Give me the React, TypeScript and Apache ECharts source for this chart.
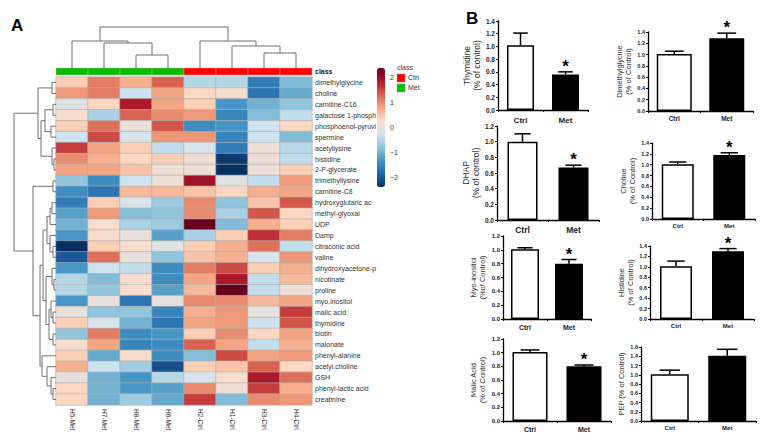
import React, { useEffect, useRef } from 'react';
import * as echarts from 'echarts';

const FONT = 'Liberation Sans, Arial, Helvetica, sans-serif';

// ---------- Heatmap data ----------
const samples = ['H5-Met', 'H7-Met', 'H8-Met', 'H6-Met', 'H2-Ctrl', 'H1-Ctrl', 'H3-Ctrl', 'H4-Ctrl'];
const sampleClass = ['Met', 'Met', 'Met', 'Met', 'Ctrl', 'Ctrl', 'Ctrl', 'Ctrl'];
const classNames = ['Ctrl', 'Met'];
const classColors = ['#FF0000', '#00C000'];

const metabolites = [
  'dimethylglycine', 'choline', 'carnitine-C16', 'galactose 1-phosph', 'phosphoenol-pyruvi',
  'spermine', 'acetyllysine', 'histidine', '2-P-glycerate', 'trimethyllysine',
  'carnitine-C8', 'hydroxyglutaric ac', 'methyl-glyoxal', 'UDP', 'Damp',
  'citraconic acid', 'valine', 'dihydroxyacetone-p', 'nicotinate', 'proline',
  'myo.inositol', 'malic acid', 'thymidine', 'biotin', 'malonate',
  'phenyl-alanine', 'acetyl.choline', 'GSH', 'phenyl-lactic acid', 'creatinine',
];

const zScores = [
  [0.4, 1.1, 0.7, 1.3, -0.5, -0.5, -1.6, -0.9],
  [0.9, 1.1, -0.3, 0.8, 0.3, 0.2, -1.7, -1.1],
  [-0.1, 0.3, 1.9, 0.8, 0.4, -1.3, -1.0, -0.8],
  [0.2, -0.6, 1.3, 1.0, 0.9, -1.5, -0.9, -0.4],
  [0.4, 1.2, 0.0, 1.4, -1.4, -1.3, -0.3, 0.3],
  [-0.3, 1.5, -0.2, 0.9, 0.9, -1.5, -0.3, -0.9],
  [1.6, 0.8, 0.4, -0.4, -0.2, -1.6, 0.1, -0.5],
  [1.0, 0.7, 0.3, 0.4, 0.1, -2.3, 0.1, -0.4],
  [0.8, 0.8, 0.5, 0.1, 0.1, -2.4, 0.1, 0.4],
  [-0.8, -1.4, -0.3, 0.1, 2.0, -0.1, -0.4, 0.9],
  [-1.4, -1.7, 0.6, 0.6, 0.5, 0.3, 0.7, 0.8],
  [-1.6, 0.4, -0.2, -0.7, 1.0, -0.8, 0.5, 1.4],
  [-1.2, 0.9, -0.9, -0.8, 1.0, -0.6, 1.4, 0.3],
  [-1.0, 0.2, -0.6, -0.7, 2.4, -0.9, 0.7, 0.4],
  [-1.3, 0.2, 0.0, -1.2, -0.6, 0.4, 1.7, 1.1],
  [-2.4, 0.4, 0.2, -0.1, 0.4, 0.7, 1.2, -0.4],
  [-2.0, 1.2, 0.0, -0.8, 0.5, 0.7, -0.2, 0.9],
  [-1.3, -0.3, -0.4, -1.4, 1.1, 1.5, 0.4, 0.7],
  [-0.5, -0.9, 0.2, -1.4, 0.8, 1.9, -0.4, 0.6],
  [-0.5, -0.8, 0.2, -1.2, 0.6, 2.4, -0.4, 0.1],
  [-1.3, 0.0, -1.7, 0.0, 1.0, 1.0, 0.6, 0.8],
  [0.0, -0.8, -0.8, -1.5, 0.7, 0.9, 0.0, 1.6],
  [0.4, -0.2, -1.0, -1.7, 0.8, 0.9, -0.3, 1.4],
  [-0.8, 1.1, -1.4, -1.3, 0.4, 1.0, 0.3, 0.8],
  [0.2, 0.8, -1.5, -1.4, 1.3, 0.8, -0.4, 0.7],
  [0.4, -1.1, 0.2, -1.4, -0.9, 1.5, 0.8, 0.9],
  [0.7, -0.3, -0.7, -2.1, 0.4, 0.5, 1.3, 0.3],
  [0.0, -1.0, -1.3, -0.5, -0.2, 0.2, 1.9, 1.2],
  [0.3, -1.0, -1.3, -1.2, 1.0, 0.1, 1.6, 0.7],
  [0.3, -1.0, -0.7, -1.1, 1.6, -0.9, 1.0, 0.9],
];

const colorbarTicks = [-2, -1, 0, 1, 2];
const colorRange = ['#053061', '#2166AC', '#4393C3', '#92C5DE', '#D1E5F0', '#FDDBC7', '#F4A582', '#D6604D', '#B2182B', '#67001F'];

// dendrogram merges: [childA, childB, height]; leaves are 0..n-1, new clusters n, n+1, ...
const colMerges = [
  [2, 3, 13], [1, 8, 25], [0, 9, 27], [6, 7, 15], [5, 11, 22], [4, 12, 27], [10, 13, 41],
];
const rowMerges = [
  [0, 1, 4], [2, 3, 3], [4, 5, 5], [7, 8, 2], [6, 33, 4], [31, 32, 11], [35, 34, 15], [30, 36, 18],
  [9, 10, 3], [11, 12, 4], [13, 39, 6], [15, 16, 3], [14, 41, 6], [40, 42, 9],
  [18, 19, 2], [17, 44, 4], [21, 22, 3], [20, 46, 5], [23, 24, 3], [47, 48, 7], [45, 49, 10],
  [43, 50, 13], [28, 29, 3], [27, 52, 5], [26, 53, 9], [25, 54, 14], [51, 55, 16], [38, 56, 23],
  [37, 57, 42],
];

// ---------- Bar chart data ----------
const groups = ['Ctrl', 'Met'];
const barTitles = [
  'Thymidine\n(% of control)', 'Dimethylglycine\n(% of Control)', 'DHAP\n(% of control)', 'Choline\n(% of Control)',
  'Myo-inositol\n(%of Control)', 'Histidine\n(% of Control)', 'Malic Acid\n(% of Control)', 'PEP (% of Control)',
];
const ctrlMean = [1.02, 1.01, 1.0, 1.01, 1.01, 1.01, 1.01, 1.01];
const ctrlErr = [0.19, 0.05, 0.1, 0.04, 0.02, 0.1, 0.03, 0.09];
const metMean = [0.56, 1.29, 0.67, 1.18, 0.8, 1.3, 0.8, 1.41];
const metErr = [0.04, 0.09, 0.03, 0.04, 0.06, 0.05, 0.02, 0.14];
const significant = [true, true, true, true, true, true, true, false];
const yMax = [1.4, 1.4, 1.2, 1.4, 1.2, 1.4, 1.2, 1.6];

// ---------- layout (positions/styles only) ----------
const panelBoxes = [
  { left: 498, top: 21, width: 90, height: 89, bw: 27, tick: 6.5, cat: 8, title: 8.5, gap: 16, cm: 6 },
  { left: 648, top: 32, width: 105, height: 79, bw: 35, tick: 5.5, cat: 6.5, title: 7.5, gap: 14, cm: 4 },
  { left: 497, top: 126, width: 102, height: 94, bw: 30, tick: 6.5, cat: 8.5, title: 8.5, gap: 16, cm: 5 },
  { left: 652, top: 143, width: 103, height: 76, bw: 32, tick: 5.5, cat: 6, title: 7.5, gap: 14, cm: 4 },
  { left: 503, top: 236, width: 88, height: 83, bw: 28, tick: 6, cat: 7, title: 7.5, gap: 16, cm: 5 },
  { left: 650, top: 246, width: 104, height: 73, bw: 32, tick: 5.5, cat: 6, title: 7.5, gap: 14, cm: 4 },
  { left: 503, top: 339, width: 108, height: 82, bw: 35, tick: 6, cat: 7, title: 7.5, gap: 16, cm: 5 },
  { left: 641, top: 347, width: 115, height: 74, bw: 38, tick: 5.5, cat: 6, title: 7.5, gap: 10, cm: 4 },
];

function dendroSegments(merges: number[][], n: number) {
  const pos: number[] = [];
  const ht: number[] = [];
  for (let i = 0; i < n; i++) { pos[i] = i + 0.5; ht[i] = 0; }
  const segs: number[][] = [];
  merges.forEach((m, k) => {
    const [a, b, h] = m;
    segs.push([pos[a], ht[a], pos[a], h]);
    segs.push([pos[b], ht[b], pos[b], h]);
    segs.push([pos[a], h, pos[b], h]);
    pos[n + k] = (pos[a] + pos[b]) / 2;
    ht[n + k] = h;
  });
  return segs;
}

function segRender(swap: boolean) {
  return (params: any, api: any) => {
    const a = [api.value(0), api.value(1)];
    const b = [api.value(2), api.value(3)];
    const p1 = api.coord(swap ? [a[1], a[0]] : a);
    const p2 = api.coord(swap ? [b[1], b[0]] : b);
    return {
      type: 'line',
      shape: { x1: p1[0], y1: p1[1], x2: p2[0], y2: p2[1] },
      style: { stroke: '#707070', lineWidth: 1 },
    };
  };
}

export default function App() {
  const ref = useRef<HTMLDivElement>(null);
  useEffect(() => {
    if (!ref.current) return;
    const chart = echarts.init(ref.current, null, { renderer: 'svg' });

    const heatData: number[][] = [];
    zScores.forEach((row, r) => row.forEach((v, c) => heatData.push([c, r, v])));
    const classData = sampleClass.map((c, i) => [i, 0, classNames.indexOf(c)]);
    const colSegs = dendroSegments(colMerges, samples.length);
    const rowSegs = dendroSegments(rowMerges, metabolites.length);

    const grid: any[] = [
      { left: 56, top: 77, width: 256, height: 328 },
      { left: 56, top: 68, width: 256, height: 7 },
      { left: 56, top: 20, width: 256, height: 48 },
      { left: 12, top: 77, width: 44, height: 328 },
      { left: 377, top: 68, width: 8, height: 119 },
    ];
    const xAxis: any[] = [
      { gridIndex: 0, type: 'category', data: samples, position: 'bottom', axisLine: { show: false }, axisTick: { show: false },
        axisLabel: { rotate: -90, fontSize: 6.5, color: '#333', margin: 4, fontFamily: FONT } },
      { gridIndex: 1, type: 'category', data: samples, show: false },
      { gridIndex: 2, type: 'value', min: 0, max: 8, show: false },
      { gridIndex: 3, type: 'value', min: 0, max: 44, inverse: true, show: false },
      { gridIndex: 4, type: 'value', min: 0, max: 1, show: false },
    ];
    const yAxis: any[] = [
      { gridIndex: 0, type: 'category', data: metabolites, inverse: true, position: 'right', axisLine: { show: false }, axisTick: { show: false },
        axisLabel: { fontSize: 7, color: '#333', margin: 3, fontFamily: FONT } },
      { gridIndex: 1, type: 'category', data: ['class'], position: 'right', axisLine: { show: false }, axisTick: { show: false },
        axisLabel: { fontSize: 7, color: '#222', margin: 3, fontWeight: 'bold', fontFamily: FONT } },
      { gridIndex: 2, type: 'value', min: 0, max: 48, show: false },
      { gridIndex: 3, type: 'value', min: 0, max: 30, inverse: true, show: false },
      { gridIndex: 4, type: 'value', min: -2.4, max: 2.4, position: 'right', axisLine: { show: false }, axisTick: { show: false },
        splitLine: { show: false },
        axisLabel: { customValues: colorbarTicks, fontSize: 7, color: '#333', margin: 5, fontFamily: FONT,
          formatter: (v: number) => String(v).replace('-', '\u2212') } },
    ];
    const series: any[] = [
      { type: 'heatmap', xAxisIndex: 0, yAxisIndex: 0, data: heatData,
        itemStyle: { borderColor: '#b0b0b0', borderWidth: 0.6 }, emphasis: { disabled: true } },
      { type: 'custom', xAxisIndex: 1, yAxisIndex: 1, data: classData,
        renderItem: (params: any, api: any) => {
          const c = api.coord([api.value(0), 0]);
          const s = api.size([1, 1]);
          return { type: 'rect', shape: { x: c[0] - s[0] / 2, y: c[1] - s[1] / 2, width: s[0], height: s[1] },
            style: { fill: classColors[api.value(2)], stroke: '#e0a0a0', lineWidth: 0.5 } };
        } },
      { type: 'custom', xAxisIndex: 2, yAxisIndex: 2, data: colSegs, renderItem: segRender(false) },
      { type: 'custom', xAxisIndex: 3, yAxisIndex: 3, data: rowSegs, renderItem: segRender(true) },
    ];

    panelBoxes.forEach((b, i) => {
      const gi = grid.length;
      grid.push({ left: b.left, top: b.top, width: b.width, height: b.height });
      xAxis.push({ gridIndex: gi, type: 'category', data: groups,
        axisLine: { lineStyle: { color: '#000', width: 1.3 } },
        axisTick: { show: true, alignWithLabel: false, length: 2, lineStyle: { color: '#000' } },
        axisLabel: { fontSize: b.cat, fontWeight: 'bold', color: '#222', margin: b.cm, fontFamily: FONT } });
      yAxis.push({ gridIndex: gi, type: 'value', min: 0, max: yMax[i], interval: 0.2,
        name: barTitles[i], nameLocation: 'middle', nameRotate: 90, nameGap: b.gap,
        nameTextStyle: { fontSize: b.title, color: '#333', fontFamily: FONT, lineHeight: b.title + 1.5 },
        axisLine: { show: true, lineStyle: { color: '#000', width: 1.3 } },
        axisTick: { show: true, length: 2, lineStyle: { color: '#000' } },
        splitLine: { show: false },
        axisLabel: { fontSize: b.tick, fontWeight: 'bold', color: '#222', margin: 3, fontFamily: FONT,
          formatter: (v: number) => v.toFixed(1) } });
      const xi = xAxis.length - 1;
      const yi = yAxis.length - 1;
      series.push({ type: 'bar', xAxisIndex: xi, yAxisIndex: yi, barWidth: b.bw,
        data: [
          { value: ctrlMean[i], itemStyle: { color: '#fff' } },
          { value: metMean[i], itemStyle: { color: '#000' } },
        ],
        itemStyle: { borderColor: '#000', borderWidth: 1.5 }, emphasis: { disabled: true } });
      const cap = b.bw * 0.27;
      series.push({ type: 'custom', xAxisIndex: xi, yAxisIndex: yi, z: 5,
        data: [[0, ctrlMean[i], ctrlMean[i] + ctrlErr[i]], [1, metMean[i], metMean[i] + metErr[i]]],
        renderItem: (params: any, api: any) => {
          const lo = api.coord([api.value(0), api.value(1)]);
          const hi = api.coord([api.value(0), api.value(2)]);
          return { type: 'group', children: [
            { type: 'line', shape: { x1: lo[0], y1: lo[1], x2: hi[0], y2: hi[1] }, style: { stroke: '#000', lineWidth: 1.5 } },
            { type: 'line', shape: { x1: hi[0] - cap, y1: hi[1], x2: hi[0] + cap, y2: hi[1] }, style: { stroke: '#000', lineWidth: 1.5 } },
          ] };
        } });
      if (significant[i]) {
        series.push({ type: 'custom', xAxisIndex: xi, yAxisIndex: yi, z: 6,
          data: [[1, metMean[i] + metErr[i]]],
          renderItem: (params: any, api: any) => {
            const p = api.coord([api.value(0), api.value(1)]);
            return { type: 'text', x: p[0], y: p[1] - 14,
              style: { text: '*', fontSize: 17, fontWeight: 'bold', fill: '#000', fontFamily: FONT, textAlign: 'center', textVerticalAlign: 'top' } };
          } });
      }
    });

    const option: any = {
      animation: false,
      textStyle: { fontFamily: FONT },
      grid, xAxis, yAxis, series,
      visualMap: [{
        type: 'continuous', seriesIndex: 0, min: -2.4, max: 2.4, show: true,
        left: 377, top: 68, itemWidth: 8, itemHeight: 119, padding: 0, calculable: false,
        inRange: { color: colorRange },
      }],
      graphic: [
        { type: 'text', left: 11, top: 17, style: { text: 'A', fontSize: 17, fontWeight: 'bold', fill: '#000', fontFamily: FONT } },
        { type: 'text', left: 466, top: 10, style: { text: 'B', fontSize: 17, fontWeight: 'bold', fill: '#000', fontFamily: FONT } },
        { type: 'text', left: 397, top: 64, style: { text: 'class', fontSize: 7, fill: '#333', fontFamily: FONT } },
        { type: 'rect', shape: { x: 397, y: 74, width: 8, height: 8 }, style: { fill: classColors[0], stroke: '#999', lineWidth: 0.5 } },
        { type: 'text', left: 408, top: 74, style: { text: classNames[0], fontSize: 7, fill: '#333', fontFamily: FONT } },
        { type: 'rect', shape: { x: 397, y: 84, width: 8, height: 8 }, style: { fill: classColors[1], stroke: '#999', lineWidth: 0.5 } },
        { type: 'text', left: 408, top: 84, style: { text: classNames[1], fontSize: 7, fill: '#333', fontFamily: FONT } },
      ],
    };
    chart.setOption(option);
    return () => chart.dispose();
  }, []);
  return <div ref={ref} style={{ position: 'fixed', left: 0, top: 0, width: 770, height: 441, background: '#fff' }} />;
}
